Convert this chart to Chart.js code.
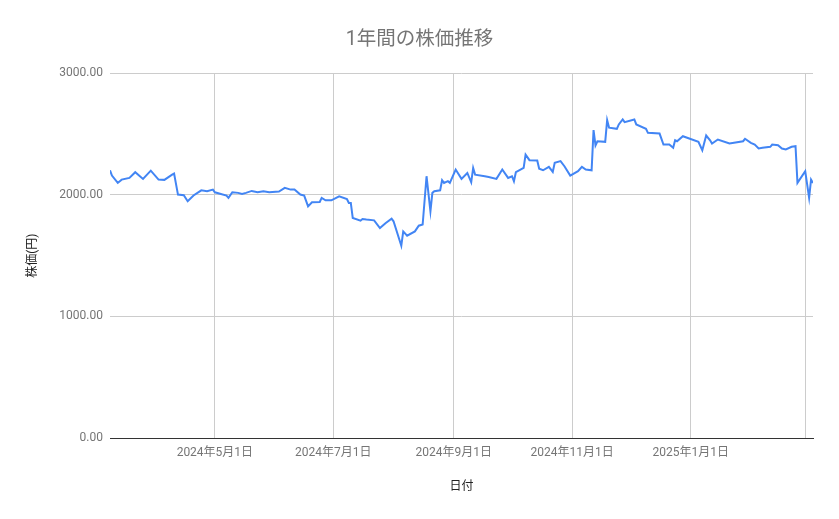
<!DOCTYPE html>
<html><head><meta charset="utf-8">
<script src="https://cdn.jsdelivr.net/npm/chart.js@4/dist/chart.umd.min.js"></script>
<style>html,body{margin:0;padding:0;background:#fff}#wrap{width:839px;height:519px}</style>
</head><body><div id="wrap"><canvas id="c" width="839" height="519"></canvas></div>
<script>
const dates = ["2024-03-08","2024-03-09","2024-03-12","2024-03-14","2024-03-18","2024-03-21","2024-03-25","2024-03-29",
"2024-04-02","2024-04-05","2024-04-09","2024-04-10","2024-04-12","2024-04-15","2024-04-17","2024-04-20","2024-04-24","2024-04-27","2024-04-30",
"2024-05-01","2024-05-07","2024-05-08","2024-05-10","2024-05-13","2024-05-15","2024-05-17","2024-05-20","2024-05-23","2024-05-26","2024-05-29",
"2024-06-03","2024-06-06","2024-06-09","2024-06-11","2024-06-14","2024-06-16","2024-06-18","2024-06-20","2024-06-24","2024-06-25","2024-06-27","2024-06-30",
"2024-07-04","2024-07-08","2024-07-09","2024-07-10","2024-07-11","2024-07-15","2024-07-16","2024-07-18","2024-07-22","2024-07-25","2024-07-28","2024-07-31",
"2024-08-01","2024-08-05","2024-08-06","2024-08-08","2024-08-12","2024-08-14","2024-08-16","2024-08-18","2024-08-20","2024-08-21","2024-08-22","2024-08-25","2024-08-26","2024-08-27","2024-08-29","2024-08-30",
"2024-09-02","2024-09-05","2024-09-08","2024-09-10","2024-09-11","2024-09-12","2024-09-17","2024-09-19","2024-09-23","2024-09-26","2024-09-29",
"2024-10-01","2024-10-02","2024-10-03","2024-10-07","2024-10-08","2024-10-10","2024-10-14","2024-10-15","2024-10-17","2024-10-20","2024-10-22","2024-10-23","2024-10-26","2024-10-28","2024-10-31",
"2024-11-04","2024-11-06","2024-11-08","2024-11-11","2024-11-12","2024-11-13","2024-11-14","2024-11-18","2024-11-19","2024-11-20","2024-11-24","2024-11-25","2024-11-27","2024-11-28",
"2024-12-03","2024-12-04","2024-12-09","2024-12-10","2024-12-16","2024-12-18","2024-12-21","2024-12-23","2024-12-24","2024-12-25","2024-12-28",
"2025-01-05","2025-01-07","2025-01-09","2025-01-11","2025-01-12","2025-01-15","2025-01-21","2025-01-28","2025-01-29",
"2025-02-01","2025-02-03","2025-02-05","2025-02-07","2025-02-11","2025-02-12","2025-02-15","2025-02-17","2025-02-19","2025-02-22","2025-02-24","2025-02-25",
"2025-03-01","2025-03-03","2025-03-04","2025-03-05"];
const prices = [2203,2159,2099,2126,2140,2187,2132,2200,
2126,2124,2167,2176,2003,1997,1948,1995,2038,2030,2044,
2022,1995,1976,2022,2017,2008,2017,2033,2022,2030,2022,
2028,2058,2044,2044,2003,1995,1906,1939,1942,1976,1956,1956,
1989,1967,1934,1934,1811,1788,1802,1797,1791,1728,1769,1805,
1783,1582,1700,1665,1700,1747,1756,2154,1865,2017,2030,2038,2121,2099,2113,2099,
2209,2132,2181,2104,2222,2167,2154,2148,2132,2209,2140,
2154,2113,2187,2222,2332,2286,2283,2215,2203,2231,2190,2264,2278,2236,2159,
2195,2231,2209,2203,2533,2407,2442,2437,2615,2553,2544,2580,2621,2599,
2621,2580,2544,2511,2505,2415,2415,2388,2450,2442,2483,
2437,2368,2489,2450,2423,2456,2423,2442,2462,
2429,2415,2382,2388,2396,2415,2409,2382,2374,2396,2401,2099,
2195,1976,2126,2099];
const tickDates = ["2024-05-01","2024-07-01","2024-09-01","2024-11-01","2025-01-01","2025-03-01"];
const tickLabels = ["2024年5月1日","2024年7月1日","2024年9月1日","2024年11月1日","2025年1月1日",""];
const yTicks = [0,1000,2000,3000];
const titleText = "1年間の株価推移";
const xTitle = "日付";
const yTitle = "株価(円)";

function dayNum(s){const p=s.split('-').map(Number);return Date.UTC(p[0],p[1]-1,p[2])/864e5;}
const points = dates.map((d,i)=>({x:dayNum(d),y:prices[i]}));
const tickVals = tickDates.map(dayNum);
const FONT = "Roboto, 'Noto Sans CJK JP', sans-serif";

new Chart(document.getElementById('c'),{
  type:'line',
  data:{datasets:[{data:points,borderColor:'#4285F4',borderWidth:2,pointRadius:0,tension:0,fill:false,yAxisID:'y'}]},
  options:{
    responsive:false,animation:false,
    layout:{padding:0},
    plugins:{
      legend:{display:false},tooltip:{enabled:false},
      title:{display:true,text:titleText,color:'#757575',font:{family:FONT,size:19.5,weight:'normal'},padding:{top:28,bottom:22}}
    },
    scales:{
      x:{type:'linear',min:dayNum(dates[0]),max:dayNum(dates[dates.length-1]),
        afterBuildTicks:s=>{s.ticks=tickVals.map(v=>({value:v}));},
        afterFit:s=>{s.height=81;},
        ticks:{autoSkip:false,maxRotation:0,padding:8,color:'#757575',font:{family:FONT,size:12},
          callback:(v)=>{const i=tickVals.indexOf(v);return i>=0?tickLabels[i]:'';}},
        grid:{color:'#cccccc',drawTicks:false,lineWidth:1},
        border:{display:true,color:'#333333',width:1},
        title:{display:true,text:xTitle,color:'#222222',font:{family:FONT,size:12},padding:{top:0,bottom:25}}
      },
      y:{min:0,max:3000,
        afterBuildTicks:s=>{s.ticks=yTicks.map(v=>({value:v}));},
        afterFit:s=>{s.width=110;},
        ticks:{padding:7,color:'#757575',font:{family:FONT,size:12},callback:v=>Number(v).toFixed(2)},
        grid:{color:c=>c.tick&&c.tick.value===0?'#333333':'#cccccc',drawTicks:false,lineWidth:1},
        border:{display:false},
        title:{display:true,text:yTitle,color:'#222222',font:{family:FONT,size:12},padding:{top:26,bottom:0}}
      },
      yRight:{position:'right',min:0,max:3000,
        afterFit:s=>{s.width=26;},
        ticks:{display:false},grid:{display:false,drawOnChartArea:false},border:{display:false}
      }
    }
  }
});
</script></body></html>
